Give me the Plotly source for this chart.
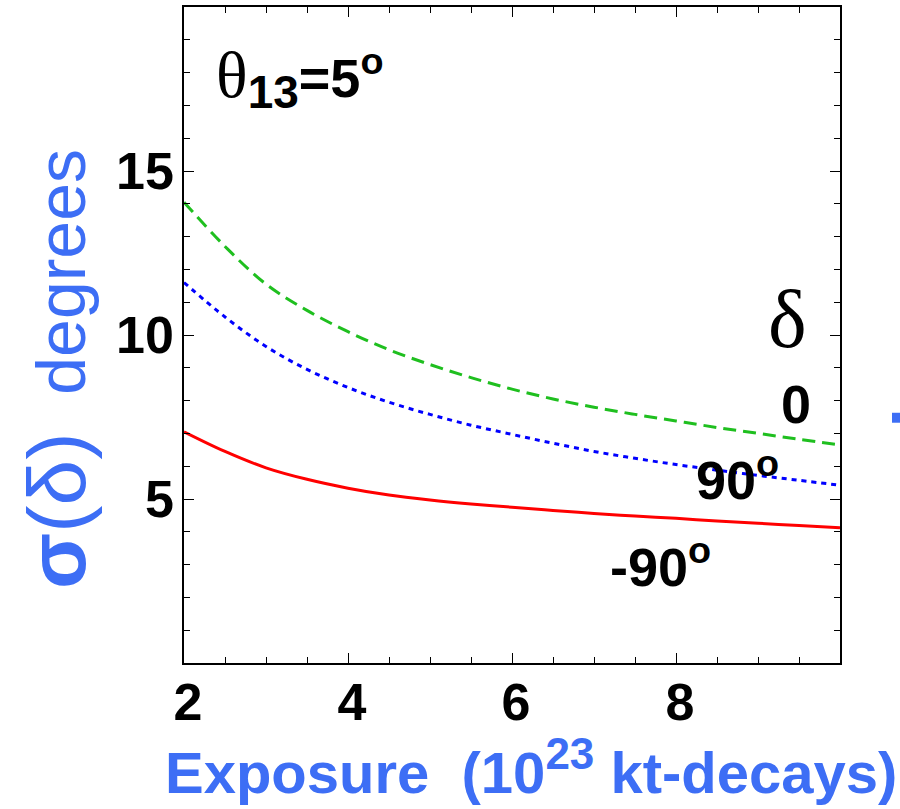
import plotly.graph_objects as go

exposure = [2, 2.5, 3, 3.5, 4, 4.5, 5, 5.5, 6, 6.5, 7, 7.5, 8, 8.5, 9, 9.5, 10]
sigma_delta_0 = [14.05, 12.7, 11.55, 10.75, 10.1, 9.55, 9.1, 8.7, 8.35, 8.05, 7.8, 7.58, 7.38, 7.18, 7.0, 6.82, 6.65]
sigma_delta_90 = [11.6, 10.55, 9.65, 8.95, 8.4, 7.95, 7.58, 7.25, 6.97, 6.7, 6.45, 6.24, 6.05, 5.88, 5.72, 5.57, 5.42]
sigma_delta_m90 = [7.05, 6.45, 5.95, 5.6, 5.33, 5.12, 4.97, 4.85, 4.75, 4.65, 4.56, 4.48, 4.41, 4.33, 4.26, 4.19, 4.12]

x_ticks = [2, 4, 6, 8]
y_ticks = [5, 10, 15]

BLUE_T = "#3d6ef5"
SANS = "Liberation Sans, Arial, sans-serif"
SERIF = "Liberation Serif, Times New Roman, serif"

fig = go.Figure()
fig.add_trace(go.Scatter(x=exposure, y=sigma_delta_0, mode="lines", line=dict(color="#1fbf1f", width=3, dash="13px,7px", shape="spline"), showlegend=False))
fig.add_trace(go.Scatter(x=exposure, y=sigma_delta_90, mode="lines", line=dict(color="#0000ff", width=3, dash="5px,5px", shape="spline"), showlegend=False))
fig.add_trace(go.Scatter(x=exposure, y=sigma_delta_m90, mode="lines", line=dict(color="#ff0000", width=3, shape="spline"), showlegend=False))

axis_common = dict(showgrid=False, zeroline=False, showline=True, linecolor="black", linewidth=1.5,
                   mirror="allticks", ticks="inside", ticklen=10, tickwidth=1.2, tickcolor="black",
                   tickfont=dict(family=SANS, size=52, color="black", weight="bold"))

fig.update_xaxes(range=[2, 10], tickvals=x_ticks, ticktext=[str(v) for v in x_ticks],
                 minor=dict(dtick=0.5, ticks="inside", ticklen=6, tickcolor="black", tickwidth=1),
                 ticklabelstandoff=-7, ticklabelshift=4, **axis_common)
fig.update_yaxes(range=[0, 20], tickvals=y_ticks, ticktext=[str(v) for v in y_ticks],
                 minor=dict(dtick=1, ticks="inside", ticklen=6, tickcolor="black", tickwidth=1),
                 ticklabelstandoff=-2, **axis_common)

ann = []
# x axis title
ann.append(dict(xref="paper", yref="paper", x=(531 - 184) / 656, y=(663 - 767) / 658,
                text='<b>Exposure  (10<sup><span style="font-size:44px">23</span></sup> kt-decays)</b>', showarrow=False,
                font=dict(family=SANS, size=58, color=BLUE_T), xanchor="center", yanchor="middle"))
# y axis title
ann.append(dict(xref="paper", yref="paper", x=(57 - 184) / 656, y=(663 - 368) / 658,
                text='<span style="font-size:82px"><b>σ</b>(δ)</span>  degrees', showarrow=False, textangle=-90,
                font=dict(family=SANS, size=68, color=BLUE_T), xanchor="center", yanchor="middle"))
# theta label
ann.append(dict(xref="x", yref="y", x=2 + (214 - 184) / 82, y=(663 - 76) / 32.9,
                text='<span style="font-family:Liberation Serif;font-size:66px">θ</span><b><sub><span style="font-size:46px">13</span></sub>=5<sup>o</sup></b>',
                showarrow=False, font=dict(family=SANS, size=54, color="black"), xanchor="left", yanchor="middle"))
# delta label
ann.append(dict(xref="x", yref="y", x=2 + (787 - 184) / 82, y=(663 - 318) / 32.9, text="δ", showarrow=False,
                font=dict(family=SERIF, size=82, color="black"), xanchor="center", yanchor="middle"))
ann.append(dict(xref="x", yref="y", x=2 + (796 - 184) / 82, y=(663 - 403) / 32.9, text="<b>0</b>", showarrow=False,
                font=dict(family=SANS, size=54, color="black"), xanchor="center", yanchor="middle"))
ann.append(dict(xref="x", yref="y", x=2 + (737 - 184) / 82, y=(663 - 475) / 32.9, text="<b>90<sup>o</sup></b>", showarrow=False,
                font=dict(family=SANS, size=54, color="black"), xanchor="center", yanchor="middle"))
ann.append(dict(xref="x", yref="y", x=2 + (660 - 184) / 82, y=(663 - 563) / 32.9, text="<b>-90<sup>o</sup></b>", showarrow=False,
                font=dict(family=SANS, size=54, color="black"), xanchor="center", yanchor="middle"))

fig.update_layout(width=900, height=809, margin=dict(l=184, r=60, t=5, b=146),
                  paper_bgcolor="white", plot_bgcolor="white", annotations=ann)

# clipped remnant of neighbouring panel at right edge
fig.add_shape(type="rect", xref="paper", yref="paper", x0=(892 - 184) / 656, x1=(902 - 184) / 656,
              y0=(663 - 422) / 658, y1=(663 - 412) / 658, fillcolor=BLUE_T, line=dict(width=0), layer="above")

fig.write_html("out.html")
